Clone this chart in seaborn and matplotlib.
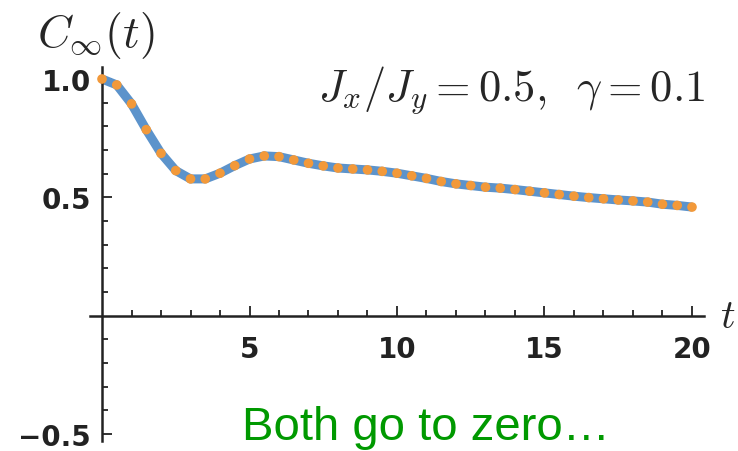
import numpy as np
import pandas as pd
import matplotlib
matplotlib.use("Agg")
import matplotlib.pyplot as plt
import seaborn as sns

# values (t step 0.5)
t_vals = [0.0, 0.5, 1.0, 1.5, 2.0, 2.5, 3.0, 3.5, 4.0, 4.5,
          5.0, 5.5, 6.0, 6.5, 7.0, 7.5, 8.0, 8.5, 9.0, 9.5,
          10.0, 10.5, 11.0, 11.5, 12.0, 12.5, 13.0, 13.5, 14.0, 14.5,
          15.0, 15.5, 16.0, 16.5, 17.0, 17.5, 18.0, 18.5, 19.0, 19.5, 20.0]
c_inf = [1.000, 0.975, 0.895, 0.786, 0.686, 0.613, 0.578, 0.578, 0.602, 0.634,
         0.662, 0.675, 0.672, 0.658, 0.644, 0.633, 0.624, 0.620, 0.616, 0.610,
         0.602, 0.591, 0.580, 0.567, 0.557, 0.550, 0.543, 0.539, 0.533, 0.526,
         0.519, 0.512, 0.505, 0.499, 0.494, 0.489, 0.485, 0.480, 0.471, 0.466, 0.459]

x_major = [5, 10, 15, 20]
x_minor = [1, 2, 3, 4, 6, 7, 8, 9, 11, 12, 13, 14, 16, 17, 18, 19]
y_major = [-0.5, 0.5, 1.0]
y_major_labels = ["\u22120.5", "0.5", "1.0"]
y_minor = [-0.4, -0.3, -0.2, -0.1, 0.1, 0.2, 0.3, 0.4, 0.6, 0.7, 0.8, 0.9]

df = pd.DataFrame({"t": t_vals, "C": c_inf})

sns.set_style("white")
plt.rcParams['mathtext.fontset'] = 'cm'

fig = plt.figure(figsize=(7.38, 4.52), dpi=100)
ax = fig.add_axes([0, 0, 1, 1])
ax.patch.set_alpha(0)

sns.lineplot(data=df, x="t", y="C", ax=ax, color="#5C93CB", linewidth=6.5,
             solid_capstyle="butt", zorder=2)
sns.scatterplot(data=df, x="t", y="C", ax=ax, color="#F2993A", s=48,
                edgecolor="none", zorder=3)

ax.set_xlim(-3.458, 21.56)
ax.set_ylim(-0.5716, 1.338)

# Mathematica-like crossing axes
for s in ["top", "right"]:
    ax.spines[s].set_visible(False)
ax.spines["left"].set_position(("data", 0))
ax.spines["bottom"].set_position(("data", 0))
ax.spines["left"].set_bounds(-0.53, 1.05)
ax.spines["bottom"].set_bounds(-0.4, 20.4)
for s in ["left", "bottom"]:
    ax.spines[s].set_linewidth(1.8)
    ax.spines[s].set_color("#222222")

ax.set_xticks(x_major)
ax.set_xticks(x_minor, minor=True)
ax.set_yticks(y_major)
ax.set_yticklabels(y_major_labels)
ax.set_yticks(y_minor, minor=True)
ax.tick_params(which="both", direction="in", color="#222222", width=1.3,
               bottom=True, left=True)
ax.tick_params(which="major", length=7)
ax.tick_params(which="minor", length=4.5)
ax.tick_params(axis="x", which="major", pad=14)
ax.tick_params(axis="y", which="major", pad=8)
for lab in ax.get_xticklabels() + ax.get_yticklabels():
    lab.set_fontweight("bold")
    lab.set_fontsize(20)
    lab.set_family("DejaVu Sans")
    lab.set_color("#222222")

ax.set_xlabel("")
ax.set_ylabel("")
ax.grid(False)

ax.text(-2.2, 1.19, r"$C_\infty(t)$", fontsize=33, ha="left", va="center")
ax.text(20.95, 0.0, r"$t$", fontsize=29, ha="left", va="center")
ax.text(20.44, 0.958, r"$J_x/J_y=0.5,\;\;\gamma=0.1$", fontsize=32,
        ha="right", va="center")
ax.text(4.75, -0.521, "Both go to zero\u2026", fontsize=34, color="#009900",
        family="Liberation Sans", ha="left", va="baseline")

fig.savefig("out.png", dpi=100)
